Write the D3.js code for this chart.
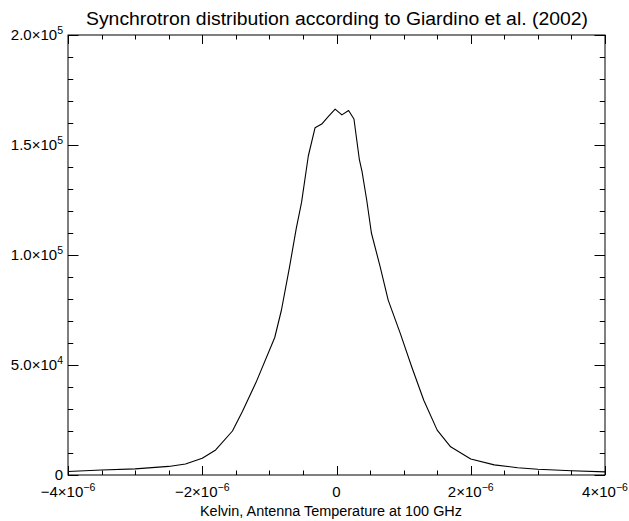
<!DOCTYPE html>
<html><head><meta charset="utf-8">
<script src="https://cdn.jsdelivr.net/npm/d3@7"></script>
<style>body{margin:0;background:#fff}svg{display:block}text{font-family:"Liberation Sans",Arial,sans-serif;fill:#000}</style>
</head><body>
<script>
// Data
const temperatureK = [-4.0e-6,-3.5e-6,-3.0e-6,-2.5e-6,-2.25e-6,-2.0e-6,-1.8e-6,-1.55e-6,-1.4e-6,-1.2e-6,-0.92e-6,-0.82e-6,-0.7e-6,-0.6e-6,-0.52e-6,-0.42e-6,-0.32e-6,-0.22e-6,-0.12e-6,-0.02e-6,0.08e-6,0.18e-6,0.26e-6,0.34e-6,0.38e-6,0.45e-6,0.52e-6,0.65e-6,0.77e-6,0.95e-6,1.12e-6,1.3e-6,1.5e-6,1.7e-6,2.0e-6,2.35e-6,2.7e-6,3.0e-6,3.5e-6,4.0e-6];
const counts = [1600,2300,2800,3900,5000,7600,11400,20000,29000,42000,62500,75000,94500,112000,124000,145000,157800,159500,163000,166300,163700,165700,161800,143500,138000,125000,110000,94700,79500,64400,49200,34000,20400,12800,7300,4600,3300,2600,1950,1400];
const xMajorTicks = [-4e-6,-2e-6,0,2e-6,4e-6];
const xTickLabels = [["\u22124\u00d710","\u22126"],["\u22122\u00d710","\u22126"],["0",""],["2\u00d710","\u22126"],["4\u00d710","\u22126"]];
const yMajorTicks = [0,5e4,1e5,1.5e5,2e5];
const yTickLabels = [["0",""],["5.0\u00d710","4"],["1.0\u00d710","5"],["1.5\u00d710","5"],["2.0\u00d710","5"]];
const titleText = "Synchrotron distribution according to Giardino et al. (2002)";
const xTitleText = "Kelvin, Antenna Temperature at 100 GHz";

const W=629,H=521;
const L=68,R=605,T=35,B=475;
const svg=d3.select("body").append("svg").attr("width",W).attr("height",H);
const x=d3.scaleLinear().domain([-4e-6,4e-6]).range([L,R]);
const y=d3.scaleLinear().domain([0,2e5]).range([B,T]);

const xMinor=d3.range(-4e-6,4.0001e-6,0.5e-6).filter(v=>!xMajorTicks.some(m=>Math.abs(m-v)<1e-12));
const yMinor=d3.range(0,2.0001e5,1e4).filter(v=>!yMajorTicks.some(m=>Math.abs(m-v)<1));

const g=svg.append("g").attr("stroke","#000").attr("stroke-width",1).attr("fill","none");
g.append("rect").attr("x",L).attr("y",T).attr("width",R-L).attr("height",B-T);
const xl=9, yl=10.5;
function vt(vals,len){vals.forEach(v=>{const px=Math.round(x(v))+0.5;
  g.append("line").attr("x1",px).attr("x2",px).attr("y1",B).attr("y2",B-len);
  g.append("line").attr("x1",px).attr("x2",px).attr("y1",T).attr("y2",T+len);});}
function ht(vals,len){vals.forEach(v=>{const py=Math.round(y(v))+0.5;
  g.append("line").attr("y1",py).attr("y2",py).attr("x1",L).attr("x2",L+len);
  g.append("line").attr("y1",py).attr("y2",py).attr("x1",R).attr("x2",R-len);});}
vt(xMajorTicks,xl); vt(xMinor,xl/2); ht(yMajorTicks,yl); ht(yMinor,yl/2);

const line=d3.line().x((d,i)=>x(temperatureK[i])).y(d=>y(d));
svg.append("path").datum(counts).attr("d",line).attr("fill","none").attr("stroke","#000").attr("stroke-width",1.1).attr("stroke-linejoin","round");

function lab(sel,base,sup){sel.append("tspan").text(base);
  if(sup){sel.append("tspan").attr("dy",-6).attr("font-size",10.5).text(sup);}}
xMajorTicks.forEach((v,i)=>{const t=svg.append("text").attr("x",x(v)).attr("y",497).attr("font-size",15).attr("text-anchor","middle");lab(t,xTickLabels[i][0],xTickLabels[i][1]);});
yMajorTicks.forEach((v,i)=>{const t=svg.append("text").attr("x",63).attr("y",y(v)+5).attr("font-size",15).attr("text-anchor","end");lab(t,yTickLabels[i][0],yTickLabels[i][1]);});
svg.append("text").attr("x",337).attr("y",25).attr("font-size",18).attr("text-anchor","middle")
  .attr("textLength",502).attr("lengthAdjust","spacingAndGlyphs").text(titleText);
svg.append("text").attr("x",331).attr("y",516).attr("font-size",14).attr("text-anchor","middle")
  .attr("textLength",262).attr("lengthAdjust","spacingAndGlyphs").text(xTitleText);
</script>
</body></html>
